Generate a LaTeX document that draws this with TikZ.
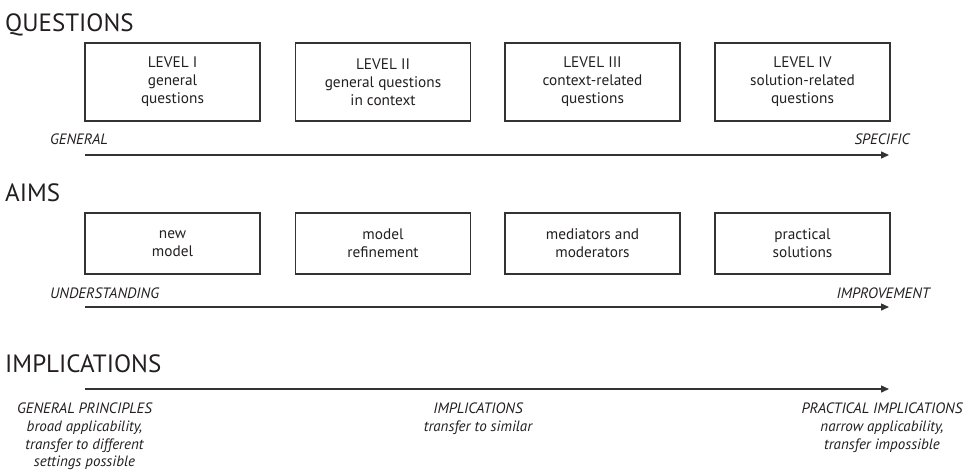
\documentclass[tikz,border=0pt]{standalone}
\usepackage{fontspec}
\setmainfont{PT Sans}
\usetikzlibrary{arrows.meta}
\definecolor{ink}{HTML}{231F20}
\definecolor{linec}{HTML}{333333}
\begin{document}
\begin{tikzpicture}[x=1pt,y=-1pt,
  title/.style={anchor=base west,inner sep=0pt,text=ink,font=\fontsize{25}{28}\selectfont},
  lvlbox/.style={draw=linec,line width=1.3pt,minimum width=175pt,inner sep=0pt,align=center,text=ink,font=\fontsize{15.3}{18}\selectfont},
  qbox/.style={lvlbox,minimum height=78pt},
  abox/.style={lvlbox,minimum height=61pt},
  lbl/.style={inner sep=0pt,text=ink,font=\fontsize{15}{17.7}\selectfont\itshape},
  axis/.style={draw=linec,line width=1.4pt,-{Triangle[length=8pt,width=7pt]}}]
\useasboundingbox (0,0) rectangle (969,475);
% QUESTIONS
\node[title] (tq) at (5,31) {QUESTIONS};
\node[qbox] (q1) at (172.5,82) {LEVEL I\\general\\questions};
\node[qbox] (q2) at (383,82) {LEVEL II\\general questions\\in context};
\node[qbox] (q3) at (592.5,82) {LEVEL III\\context-related\\questions};
\node[qbox] (q4) at (802.5,82) {LEVEL IV\\solution-related\\questions};
\node[lbl,anchor=base west] (qg) at (50,144) {GENERAL};
\node[lbl,anchor=base east] (qs) at (910,144) {SPECIFIC};
\coordinate (qa) at (85,155);
\coordinate (qb) at (889,155);
\draw[axis] (qa) -- (qb);
% AIMS
\node[title] (ta) at (5,201) {AIMS};
\node[abox] (a1) at (172.5,243.5) {new\\model};
\node[abox] (a2) at (383,243.5) {model\\refinement};
\node[abox] (a3) at (592.5,243.5) {mediators and\\moderators};
\node[abox] (a4) at (802.5,243.5) {practical\\solutions};
\node[lbl,anchor=base west] (au) at (50,298) {UNDERSTANDING};
\node[lbl,anchor=base east] (ai) at (930,298) {IMPROVEMENT};
\coordinate (aa) at (85,307);
\coordinate (ab) at (889,307);
\draw[axis] (aa) -- (ab);
% IMPLICATIONS
\node[title] (ti) at (5,372) {IMPLICATIONS};
\coordinate (ia) at (85,389);
\coordinate (ib) at (889,389);
\draw[axis] (ia) -- (ib);
\node[lbl,anchor=north,align=center] (i1) at (84.5,403) {GENERAL PRINCIPLES\\broad applicability,\\transfer to different\\settings possible};
\node[lbl,anchor=north,align=center] (i2) at (478,403) {IMPLICATIONS\\transfer to similar};
\node[lbl,anchor=north,align=center] (i3) at (882,403) {PRACTICAL IMPLICATIONS\\narrow applicability,\\transfer impossible};
\end{tikzpicture}
\end{document}
